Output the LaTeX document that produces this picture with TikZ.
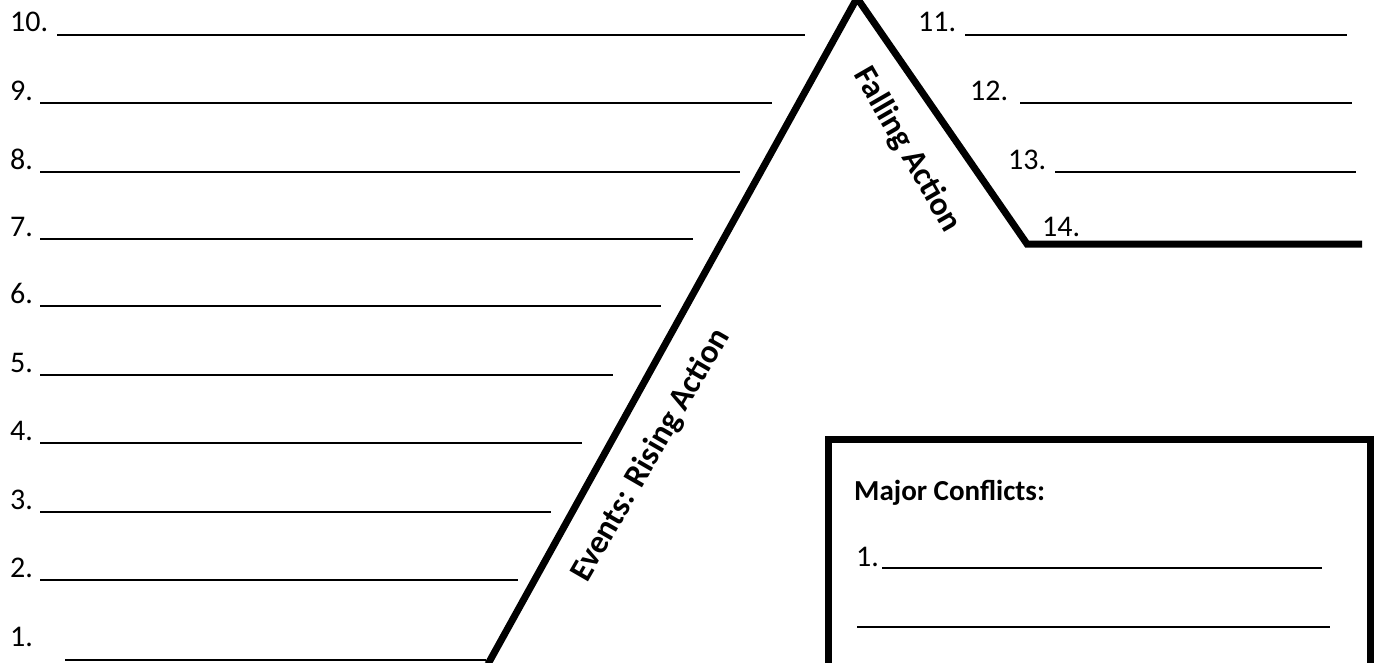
\documentclass[tikz,border=0pt]{standalone}
\usepackage{fontspec}
\setmainfont{Carlito}
\begin{document}
\begin{tikzpicture}[x=1pt,y=-1pt,
  lbl/.style={anchor=base west,inner sep=0pt,font=\fontsize{30}{35}\selectfont},
  boldlbl/.style={inner sep=0pt,font=\fontsize{29}{34}\selectfont\bfseries},
  sidelbl/.style={inner sep=0pt,font=\fontsize{33}{38}\selectfont\bfseries},
  uline/.style={line width=2.2pt},
  thick line/.style={line width=7pt,line join=miter,miter limit=20}]
\useasboundingbox (0,0) rectangle (1375,662);
% left rows
\node[lbl] (n10) at (10,31) {10.};
\node[lbl] (n9) at (10,100) {9.};
\node[lbl] (n8) at (10,169) {8.};
\node[lbl] (n7) at (10,236) {7.};
\node[lbl] (n6) at (10,303) {6.};
\node[lbl] (n5) at (10,372) {5.};
\node[lbl] (n4) at (10,440) {4.};
\node[lbl] (n3) at (10,509) {3.};
\node[lbl] (n2) at (10,577) {2.};
\node[lbl] (n1) at (10,646) {1.};
\draw[uline] (57,35) -- (805,35);
\draw[uline] (40,103) -- (772,103);
\draw[uline] (40,172) -- (740,172);
\draw[uline] (40,239) -- (693,239);
\draw[uline] (40,306) -- (661,306);
\draw[uline] (40,375) -- (613,375);
\draw[uline] (40,443) -- (582,443);
\draw[uline] (40,512) -- (551,512);
\draw[uline] (40,580) -- (518,580);
\draw[uline] (65,660) -- (486,660);
% right rows
\node[lbl] (n11) at (918,31) {11.};
\node[lbl] (n12) at (970,100) {12.};
\node[lbl] (n13) at (1008,169) {13.};
\node[lbl] (n14) at (1042,236) {14.};
\draw[uline] (965,35) -- (1347,35);
\draw[uline] (1020,103) -- (1352,103);
\draw[uline] (1055,172) -- (1356,172);
% mountain
\coordinate (base) at (488,664);
\coordinate (peak) at (857,-2);
\coordinate (foot) at (1027,244);
\coordinate (rend) at (1362,244);
\draw[thick line] (base) -- (peak) -- (foot) -- (rend);
\node[sidelbl,rotate=60] (rising) at (651,455) {Events: Rising Action};
\node[sidelbl,rotate=-60] (falling) at (907,150) {Falling Action};
% box
\draw[line width=7pt,line join=miter] (828.5,700) -- (828.5,439.5) -- (1370.5,439.5) -- (1370.5,700);
\node[boldlbl,anchor=base west] (mc) at (854,500) {Major Conflicts:};
\node[lbl] (c1) at (856,566) {1.};
\draw[uline] (882,568) -- (1322,568);
\draw[uline] (857,627) -- (1330,627);
\end{tikzpicture}
\end{document}
